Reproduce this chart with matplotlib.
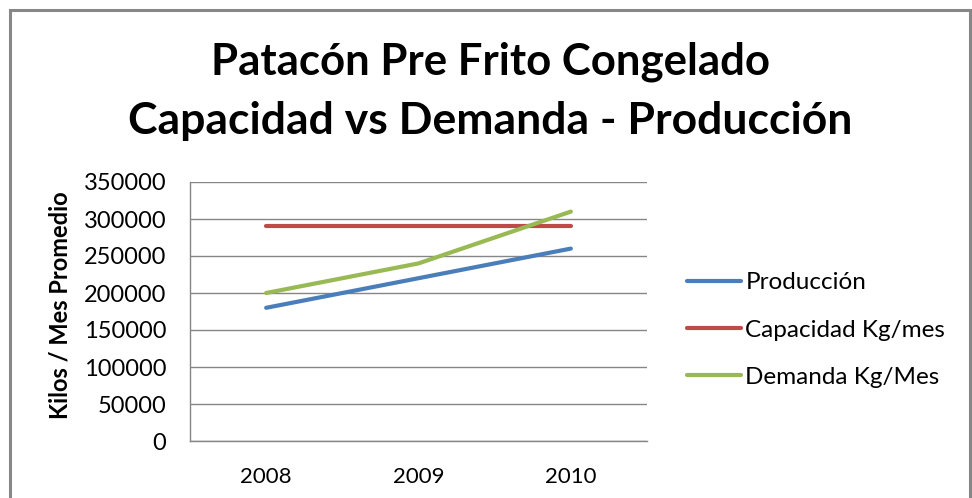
import matplotlib
matplotlib.use("Agg")
import matplotlib.pyplot as plt
from matplotlib.patches import Rectangle

years = ["2008", "2009", "2010"]
produccion = [180000, 220000, 260000]
capacidad = [290000, 290000, 290000]
demanda = [200000, 240000, 310000]
yticks = [0, 50000, 100000, 150000, 200000, 250000, 300000, 350000]

plt.rcParams['font.family'] = ['Lato', 'DejaVu Sans']

W, H = 972, 498
fig = plt.figure(figsize=(W/100, H/100), dpi=100)
fig.patch.set_facecolor('white')

# chart border
fig.add_artist(Rectangle((10/W, -0.05), 960/W, 1.05 - 10/H, transform=fig.transFigure,
                         fill=False, edgecolor='#878787', linewidth=2.2))

ax = fig.add_axes([190/W, (H-441)/H, 457/W, 259/H])
x = range(len(years))
ax.plot(x, produccion, color='#4A7EBB', lw=3, solid_capstyle='round', label='Producción', zorder=3)
ax.plot(x, capacidad, color='#BE4B48', lw=3, solid_capstyle='round', label='Capacidad Kg/mes', zorder=3)
ax.plot(x, demanda, color='#98B954', lw=3, solid_capstyle='round', label='Demanda Kg/Mes', zorder=3)

ax.set_xlim(-0.5, 2.5)
ax.set_ylim(0, 350000)
ax.set_yticks(yticks)
ax.set_yticklabels([str(v) for v in yticks])
ax.set_xticks(list(x))
ax.set_xticklabels(years)
ax.grid(axis='y', color='#868686', lw=1)
ax.set_axisbelow(True)
for s in ['top', 'right']:
    ax.spines[s].set_visible(False)
for s in ['left', 'bottom']:
    ax.spines[s].set_color('#868686')
    ax.spines[s].set_linewidth(1)
ax.tick_params(axis='y', length=0, labelsize=17, colors='#000000', pad=17)
ax.tick_params(axis='x', length=0, labelsize=16, colors='#000000', pad=19)

ax.set_ylabel('Kilos / Mes Promedio', fontsize=17, fontweight='bold')
ax.yaxis.set_label_coords((72 - 190)/457, 0.523)

fig.text(490/W, 1 - 62/H, 'Patacón Pre Frito Congelado', ha='center', va='center',
         fontsize=31.5, fontweight='bold')
fig.text(490/W, 1 - 121/H, 'Capacidad vs Demanda - Producción', ha='center', va='center',
         fontsize=32, fontweight='bold')

leg = ax.legend(loc='center left', bbox_to_anchor=(675/W, 1 - 330/H), bbox_transform=fig.transFigure,
                frameon=False, fontsize=17.5, handlelength=2.2, handletextpad=0.2, labelspacing=1.07,
                borderpad=0)

fig.savefig('out.png', dpi=100)
